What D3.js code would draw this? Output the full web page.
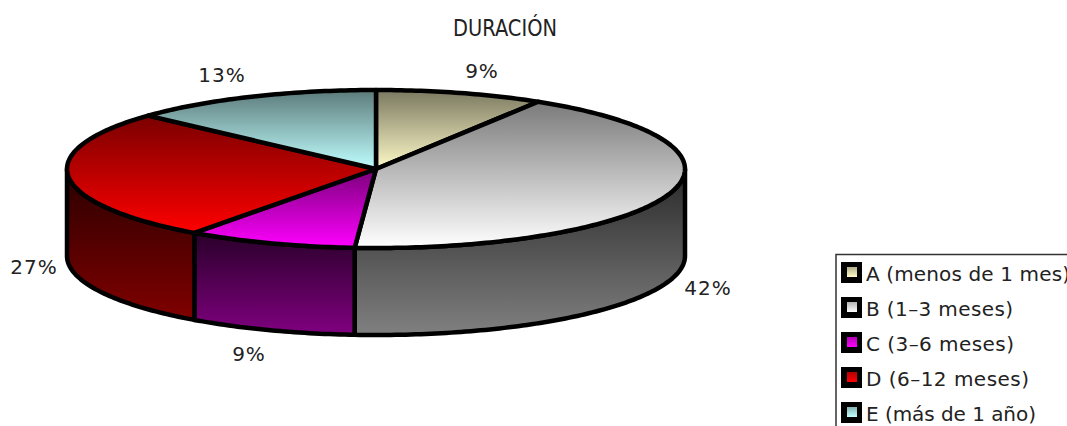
<!DOCTYPE html>
<html>
<head>
<meta charset="utf-8">
<script src="https://cdn.jsdelivr.net/npm/d3@7"></script>
<style>
  html, body { margin: 0; padding: 0; background: #fff; overflow: hidden; }
  text { font-family: "DejaVu Sans", sans-serif; fill: #222; }
</style>
</head>
<body>
<div id="chart"></div>
<script>
const categories = ["A (menos de 1 mes)", "B (1–3 meses)", "C (3–6 meses)", "D (6–12 meses)", "E (más de 1 año)"];
// shares, the printed labels are rounded
const values = [8.8, 42.3, 8.9, 26.8, 13.2];
const percentLabels = ["9%", "42%", "9%", "27%", "13%"];
const colors = ["#fffac8", "#ffffff", "#ff00ff", "#ff0000", "#c0ffff"];

const width = 1067;
const height = 426;

const cx = 376, cy = 169, rx = 309, ry = 79, depth = 87;

const svg = d3.select("#chart").append("svg")
  .attr("width", width)
  .attr("height", height)
  .style("display", "block");

const defs = svg.append("defs");

// gradients run over each shape's own box, top to bottom
function addGradient(id, c1, c2) {
  const g = defs.append("linearGradient")
    .attr("id", id)
    .attr("x1", 0).attr("x2", 0)
    .attr("y1", 0).attr("y2", 1);
  g.append("stop").attr("offset", 0).attr("stop-color", c1);
  g.append("stop").attr("offset", 1).attr("stop-color", c2);
}

function shade(c, k) {
  const r = d3.rgb(c);
  return d3.rgb(r.r * k, r.g * k, r.b * k).formatHex();
}

colors.forEach((c, i) => {
  addGradient("top" + i, shade(c, 0.48), c);
  addGradient("side" + i, shade(c, 0.16), shade(c, 0.5));
  addGradient("key" + i, shade(c, 0.7), c);
});

const pie = d3.pie().sort(null).value(d => d);
const slices = pie(values);

const px = a => cx + rx * Math.sin(a);
const py = a => cy - ry * Math.cos(a);

function rimPoints(a0, a1, dy) {
  const n = Math.max(2, Math.ceil((a1 - a0) * 60));
  return d3.range(n + 1).map(i => {
    const a = a0 + (a1 - a0) * i / n;
    return [px(a), py(a) + dy];
  });
}

const line = d3.line();

// side walls, only the part facing the viewer
svg.append("g").selectAll("path")
  .data(slices.filter(d => d.endAngle > Math.PI / 2 && d.startAngle < 3 * Math.PI / 2))
  .enter().append("path")
  .attr("d", d => {
    const a0 = Math.max(d.startAngle, Math.PI / 2);
    const a1 = Math.min(d.endAngle, 3 * Math.PI / 2);
    return line(rimPoints(a0, a1, 0).concat(rimPoints(a0, a1, depth).reverse())) + "Z";
  })
  .attr("fill", d => `url(#side${d.index})`)
  .attr("stroke", "#000")
  .attr("stroke-width", 4.5)
  .attr("stroke-linejoin", "round");

// top face
svg.append("g").selectAll("path")
  .data(slices)
  .enter().append("path")
  .attr("d", d => line([[cx, cy]].concat(rimPoints(d.startAngle, d.endAngle, 0))) + "Z")
  .attr("fill", d => `url(#top${d.index})`)
  .attr("stroke", "#000")
  .attr("stroke-width", 4.5)
  .attr("stroke-linejoin", "round");

svg.append("text")
  .attr("x", 505)
  .attr("y", 36)
  .attr("text-anchor", "middle")
  .attr("font-size", 23)
  .attr("textLength", 104)
  .attr("lengthAdjust", "spacingAndGlyphs")
  .text("DURACIÓN");

const labelPos = [[482, 78], [708, 295], [249, 361], [34, 274], [222, 82]];
svg.append("g").selectAll("text")
  .data(percentLabels)
  .enter().append("text")
  .attr("x", (d, i) => labelPos[i][0])
  .attr("y", (d, i) => labelPos[i][1])
  .attr("text-anchor", "middle")
  .attr("font-size", 20)
  .attr("letter-spacing", 1)
  .text(d => d);

// legend, cut off by the edge of the picture
svg.append("rect")
  .attr("x", 836).attr("y", 254.5)
  .attr("width", 260).attr("height", 200)
  .attr("fill", "#fff")
  .attr("stroke", "#333")
  .attr("stroke-width", 1.5);

const keyWidths = [204, 147, 148, 163, 170];

const key = svg.append("g").selectAll("g")
  .data(categories)
  .enter().append("g")
  .attr("transform", (d, i) => `translate(841,${262 + i * 35})`);

key.append("rect")
  .attr("width", 21).attr("height", 21)
  .attr("fill", "#000");

key.append("rect")
  .attr("x", 6).attr("y", 5)
  .attr("width", 10).attr("height", 10)
  .attr("fill", (d, i) => `url(#key${i})`);

key.append("text")
  .attr("x", 25)
  .attr("y", 19)
  .attr("font-size", 20)
  .attr("textLength", (d, i) => keyWidths[i])
  .text(d => d);
</script>
</body>
</html>
